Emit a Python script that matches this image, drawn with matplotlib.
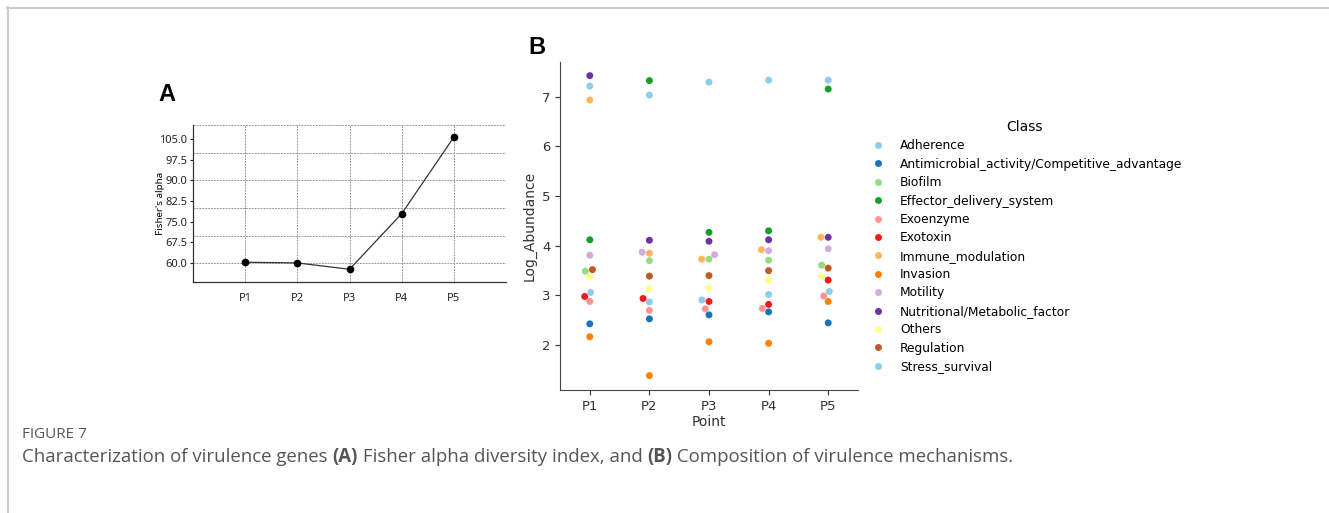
import numpy as np
import pandas as pd
import seaborn as sns
from matplotlib import pyplot as plt
from matplotlib.lines import Line2D

# panel A: Fisher's alpha per point
points = ["P1", "P2", "P3", "P4", "P5"]
fisher_alpha = [60.35, 60.1, 57.8, 77.9, 105.6]

# panel B: log abundance per virulence class, for P1..P5
classes = ["Adherence", "Antimicrobial_activity/Competitive_advantage", "Biofilm",
           "Effector_delivery_system", "Exoenzyme", "Exotoxin", "Immune_modulation",
           "Invasion", "Motility", "Nutritional/Metabolic_factor", "Others",
           "Regulation", "Stress_survival"]
adherence = [7.21, 7.03, 7.29, 7.33, 7.33]
antimicrobial = [2.43, 2.53, 2.61, 2.67, 2.45]
biofilm = [3.49, 3.70, 3.73, 3.71, 3.61]
effector = [4.12, 7.32, 4.27, 4.30, 7.15]
exoenzyme = [2.88, 2.70, 2.73, 2.74, 2.99]
exotoxin = [2.98, 2.94, 2.88, 2.82, 3.31]
immune = [6.93, 3.85, 3.73, 3.92, 4.17]
invasion = [2.17, 1.39, 2.07, 2.04, 2.88]
motility = [3.81, 3.87, 3.82, 3.90, 3.94]
nutritional = [7.42, 4.11, 4.09, 4.12, 4.17]
others = [3.38, 3.13, 3.15, 3.31, 3.38]
regulation = [3.52, 3.39, 3.40, 3.50, 3.55]
stress = [3.06, 2.87, 2.91, 3.02, 3.08]

series = [adherence, antimicrobial, biofilm, effector, exoenzyme, exotoxin, immune,
          invasion, motility, nutritional, others, regulation, stress]

# Paired-like colours, a bit brighter as in the figure
class_colors = ["#8ecde8", "#1a72b8", "#95dc80", "#12a02a", "#ff9494", "#f51818",
                "#ffb45e", "#ff7f00", "#d2acdc", "#6e33a0", "#ffff8a", "#bf5a22",
                "#8ecde8"]

rows = []
for cls, vals in zip(classes, series):
    for p, v in zip(points, vals):
        rows.append([p, cls, v])
df = pd.DataFrame(rows, columns=["Point", "Class", "Log_Abundance"])

W, H = 1329, 513
fig = plt.figure(figsize=(W / 100, H / 100), dpi=100)

# outer frame lines (top and left)
fig.add_artist(Line2D([7 / W, 1], [1 - 7.5 / H, 1 - 7.5 / H], color="#cccccc", lw=1.5))
fig.add_artist(Line2D([7.5 / W, 7.5 / W], [0, 1 - 7 / H], color="#cccccc", lw=1.5))

# ---- panel A ----
axA = fig.add_axes([193 / W, 1 - 282 / H, 313 / W, 157 / H])
x = np.arange(len(points))
grid_kw = dict(color="#999999", lw=0.7, linestyle=(0, (2, 1)), zorder=0)
for gx in range(0, 6):
    axA.axvline(gx, **grid_kw)
for gy in range(60, 111, 10):
    axA.axhline(gy, **grid_kw)
axA.plot(x, fisher_alpha, color="#333333", lw=0.9, marker="o", markersize=4.5,
         markerfacecolor="black", markeredgecolor="black", zorder=3)
axA.set_xlim(-1, 5)
axA.set_ylim(53.2, 110)
axA.set_xticks(x)
axA.set_xticklabels(points, family="Noto Sans", fontsize=8)
yt = np.arange(60, 105.1, 7.5)
axA.set_yticks(yt)
axA.set_yticklabels([f"{v:.1f}" for v in yt], family="Noto Sans", fontsize=8)
axA.tick_params(which="major", length=2.5, width=0.8, pad=1.5, colors="#222222")
axA.tick_params(axis="x", which="major", length=0, pad=8)
axA.spines[["top", "right"]].set_visible(False)
for s in ["left", "bottom"]:
    axA.spines[s].set_color("#333333")
    axA.spines[s].set_linewidth(0.9)
axA.set_ylabel("Fisher's alpha", family="Noto Sans", fontsize=7)
axA.yaxis.set_label_coords(-0.088, 0.5)
fig.text(158 / W, 1 - 95 / H, "A", family="Liberation Sans", fontweight="bold",
         fontsize=17, va="center")

# ---- panel B ----
axB = fig.add_axes([560 / W, 1 - 390 / H, 298 / W, 328.3 / H])
sns.swarmplot(data=df, x="Point", y="Log_Abundance", hue="Class", hue_order=classes,
              order=points, palette=class_colors, size=5, ax=axB)
axB.set_xlim(-0.5, 4.5)
axB.set_ylim(1.10, 7.70)
axB.set_yticks([2, 3, 4, 5, 6, 7])
sns.despine(ax=axB)
axB.tick_params(labelsize=9.5, colors="#333333")
axB.set_xlabel("Point", fontsize=10, color="#333333", labelpad=2)
axB.set_ylabel("Log_Abundance", fontsize=10, color="#333333")
for s in ["left", "bottom"]:
    axB.spines[s].set_color("#444444")
sns.move_legend(axB, "upper left", bbox_to_anchor=(855 / W, 1 - 109 / H),
                bbox_transform=fig.transFigure, frameon=False, fontsize=8.8,
                labelspacing=0.44, title="Class", title_fontsize=10)
fig.text(528 / W, 1 - 48 / H, "B", family="Liberation Sans", fontweight="bold",
         fontsize=17, va="center")

# ---- caption ----
fig.text(22 / W, 1 - 434 / H, "FIGURE 7", family="Open Sans", fontsize=11,
         color="#555555", va="center")
pieces = [("Characterization of virulence genes ", "normal"), ("(A)", "bold"),
          (" Fisher alpha diversity index, and ", "normal"), ("(B)", "bold"),
          (" Composition of virulence mechanisms.", "normal")]
fig.canvas.draw()
r = fig.canvas.get_renderer()
xpos = 22
for txt, wgt in pieces:
    t = fig.text(xpos / W, 1 - 457 / H, txt, family="Open Sans", fontsize=13.45,
                 fontweight=wgt, color="#555555", va="center")
    xpos += t.get_window_extent(renderer=r).width

fig.savefig("out.png", dpi=100)
